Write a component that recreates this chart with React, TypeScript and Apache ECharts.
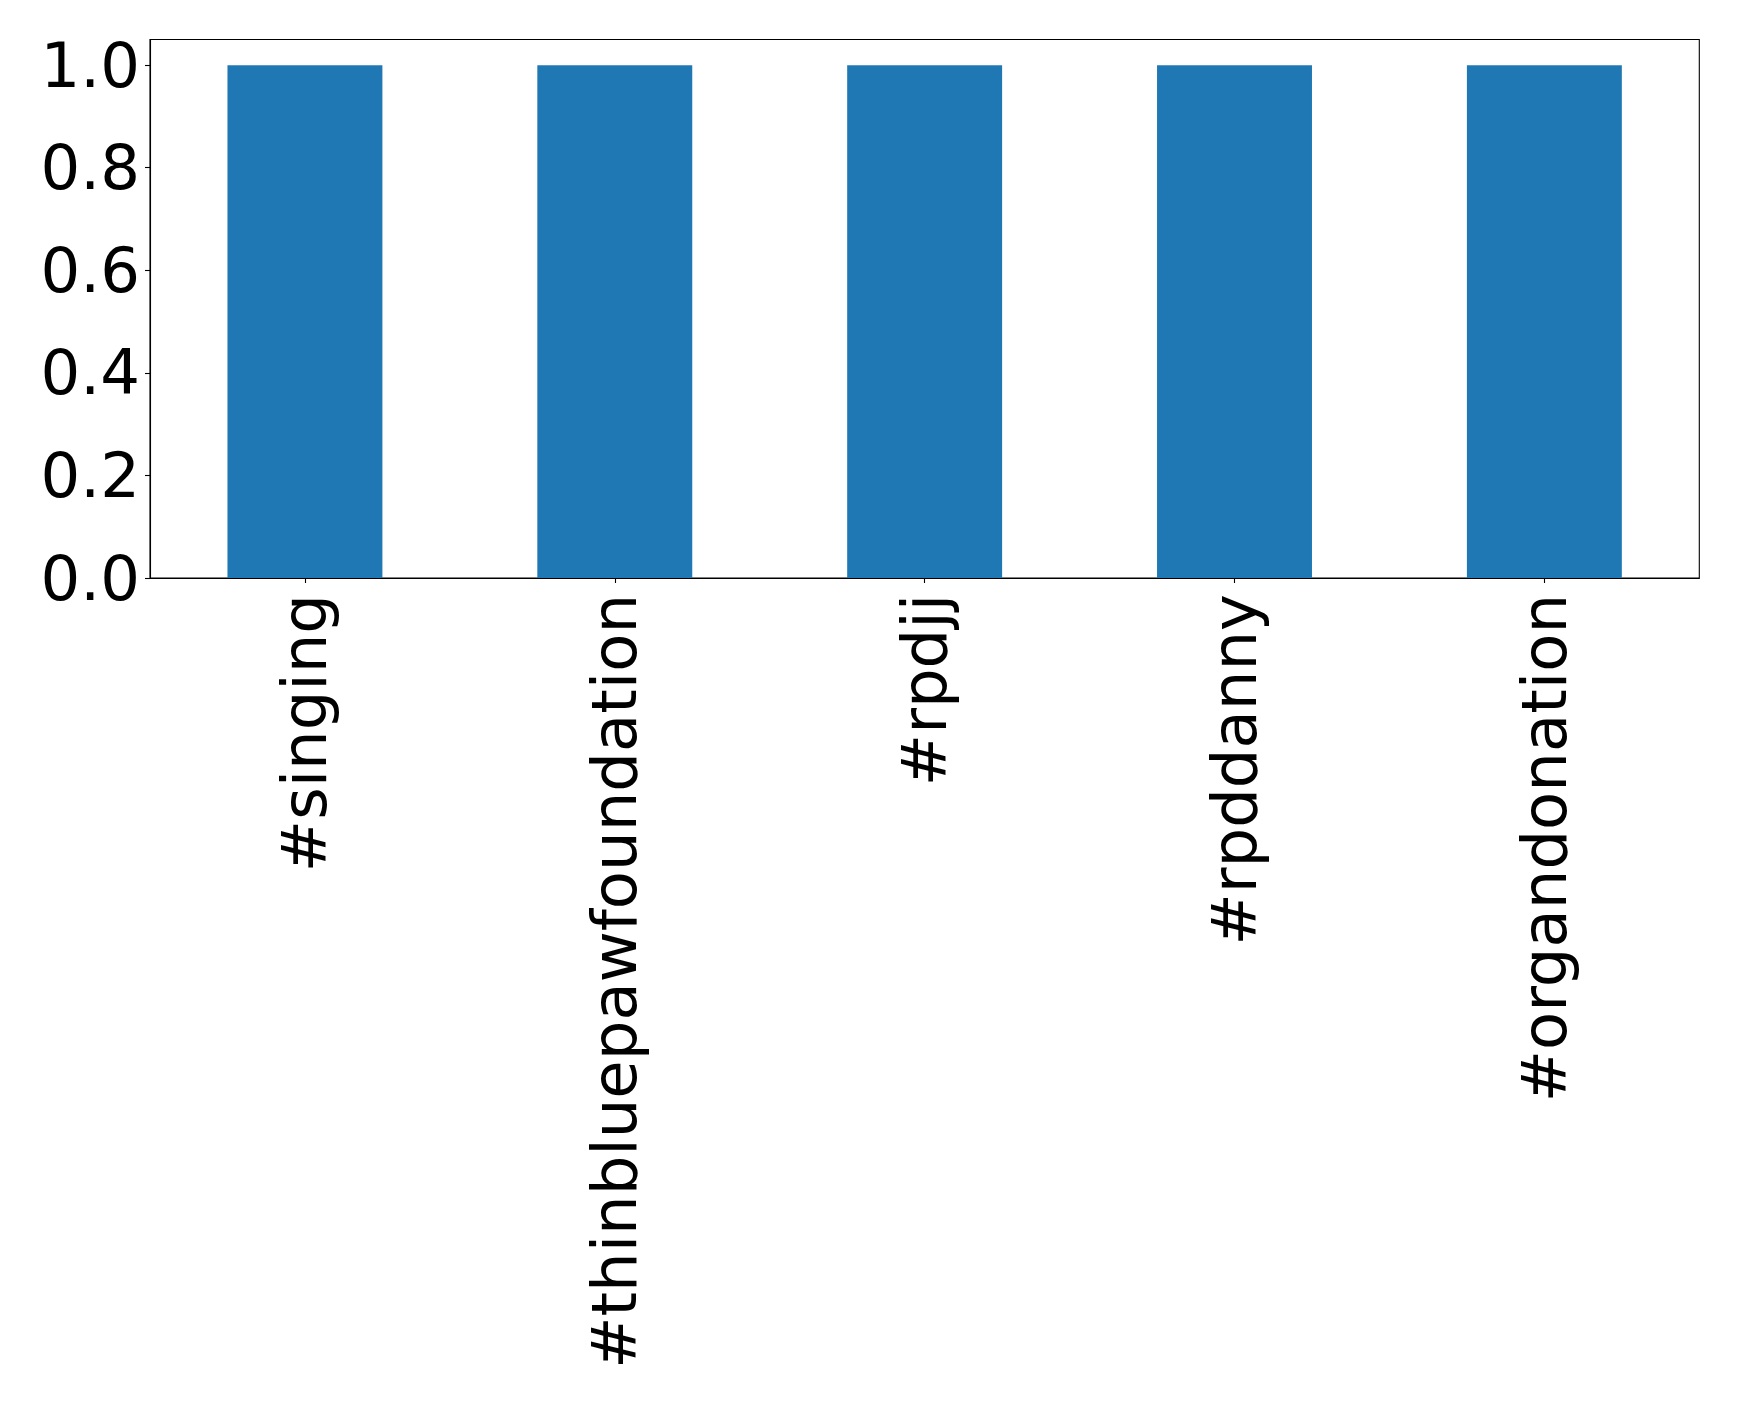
import React, { useEffect, useRef } from "react";
import * as echarts from "echarts";

const categories = ["#singing", "#thinbluepawfoundation", "#rpdjj", "#rpddanny", "#organdonation"];
const counts = [1, 1, 1, 1, 1];
const yTicks = [0, 0.2, 0.4, 0.6, 0.8, 1.0];

export default function App() {
  const ref = useRef<HTMLDivElement>(null);
  useEffect(() => {
    if (!ref.current) return;
    const chart = echarts.init(ref.current, null, { renderer: "svg" });
    const font = "DejaVu Sans";
    chart.setOption({
      animation: false,
      backgroundColor: "#ffffff",
      grid: {
        left: 150,
        top: 39.5,
        right: 39.7,
        bottom: 824,
        containLabel: false,
        outerBoundsMode: "none",
        show: true,
        borderColor: "#000000",
        borderWidth: 1.1,
        backgroundColor: "transparent",
      },
      xAxis: {
        type: "category",
        data: categories,
        boundaryGap: true,
        axisLine: { show: true, lineStyle: { color: "#000000", width: 1.1 } },
        axisTick: { show: true, alignWithLabel: true, length: 5, lineStyle: { color: "#000000", width: 1.1 } },
        axisLabel: {
          rotate: 90,
          interval: 0,
          margin: 16,
          color: "#000000",
          fontFamily: font,
          fontSize: 62.5,
        },
        splitLine: { show: false },
      },
      yAxis: {
        type: "value",
        min: 0,
        max: 1.05,
        interval: 0.2,
        axisLine: { show: true, lineStyle: { color: "#000000", width: 1.1 } },
        axisTick: { show: true, length: 5, customValues: yTicks, lineStyle: { color: "#000000", width: 1.1 } },
        axisLabel: {
          customValues: yTicks,
          margin: 10,
          color: "#000000",
          fontFamily: font,
          fontSize: 62.5,
          formatter: (v: number) => v.toFixed(1),
        },
        splitLine: { show: false },
      },
      series: [
        {
          type: "bar",
          data: counts,
          barWidth: "50%",
          itemStyle: { color: "#1f77b4" },
        },
      ],
    });
    return () => chart.dispose();
  }, []);
  return (
    <div
      ref={ref}
      style={{ position: "fixed", left: 0, top: 0, width: 1739, height: 1402, background: "#fff" }}
    />
  );
}
